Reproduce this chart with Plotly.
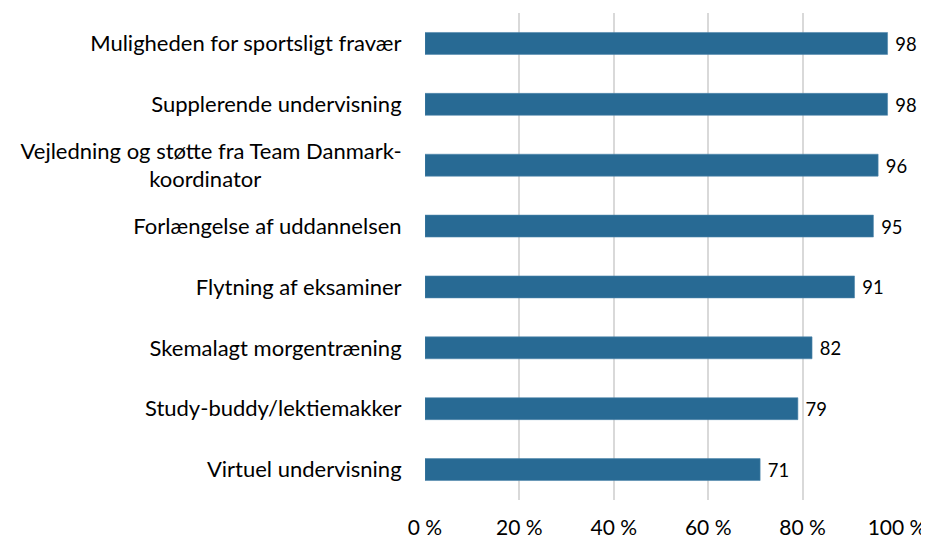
import plotly.graph_objects as go

categories = [
    "Muligheden for sportsligt fravær",
    "Supplerende undervisning",
    "Vejledning og støtte fra Team Danmark-<br>koordinator" + "\u00a0" * 25,
    "Forlængelse af uddannelsen",
    "Flytning af eksaminer",
    "Skemalagt morgentræning",
    "Study-buddy/lektiemakker",
    "Virtuel undervisning",
]
values = [98, 98, 96, 95, 91, 82, 79, 71]
tick_vals = [0, 20, 40, 60, 80, 100]
tick_text = ["0 %", "20 %", "40 %", "60 %", "80 %", "100 %"]

FONT = "Lato, Carlito, Calibri, sans-serif"

fig = go.Figure(go.Bar(
    y=categories,
    x=values,
    orientation="h",
    marker=dict(color="#286A94", line=dict(color="#4F86AB", width=0.6)),
    text=["\u00a0" + str(v) for v in values],
    textposition="outside",
    textfont=dict(family=FONT, size=21, color="#000000"),
    cliponaxis=False,
))

# page body has an 8px default margin, so the figure is sized/shifted to fit
fig.update_layout(
    width=921, height=530,
    margin=dict(l=417, r=32, t=5, b=38),
    paper_bgcolor="white", plot_bgcolor="white",
    bargap=0.64,
    showlegend=False,
    font=dict(family=FONT, size=21, color="#000000"),
)
fig.update_xaxes(
    range=[0, 100], tickvals=tick_vals, ticktext=tick_text,
    showgrid=True, gridcolor="#D9D9D9", gridwidth=1.5,
    zeroline=False, showline=False, automargin=False,
    ticks="outside", ticklen=9, tickcolor="rgba(0,0,0,0)",
    tickfont=dict(family=FONT, size=21),
)
fig.update_yaxes(
    autorange="reversed", showgrid=False, zeroline=False, showline=False,
    automargin=False,
    ticks="outside", ticklen=18, tickcolor="rgba(0,0,0,0)",
    tickfont=dict(family=FONT, size=22),
)

fig.write_html("out.html")
